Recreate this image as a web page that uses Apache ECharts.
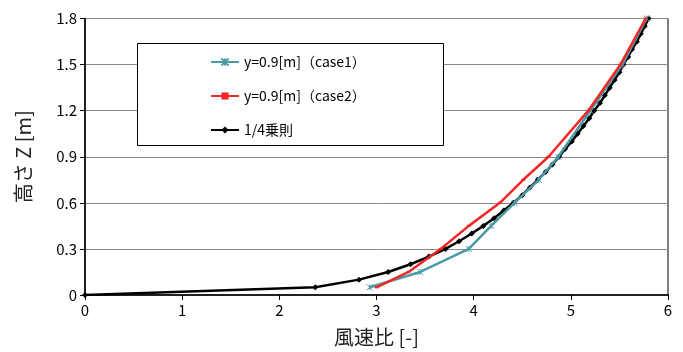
<!DOCTYPE html>
<html><head><meta charset="utf-8">
<script src="https://cdn.jsdelivr.net/npm/echarts@6/dist/echarts.min.js"></script>
<style>html,body{margin:0;padding:0;background:#fff}#c{width:683px;height:352px}</style>
</head><body><div id="c"></div>
<script>
const seriesNames = ['y=0.9[m]（case1）', 'y=0.9[m]（case2）', '1/4乗則'];
const case1X = [2.93, 3.45, 3.95, 4.18, 4.42, 4.67, 4.87, 5.20, 5.53, 5.78];
const case1Z = [0.05, 0.15, 0.30, 0.45, 0.60, 0.75, 0.90, 1.20, 1.50, 1.80];
const case2X = [3.00, 3.33, 3.66, 3.95, 4.27, 4.51, 4.77, 5.18, 5.51, 5.77];
const case2Z = [0.05, 0.15, 0.30, 0.45, 0.60, 0.75, 0.90, 1.20, 1.50, 1.80];
const lawX = [0, 2.37, 2.82, 3.12, 3.35, 3.54, 3.71, 3.85, 3.98, 4.10, 4.21, 4.31, 4.41, 4.50, 4.58, 4.66, 4.74, 4.81, 4.88, 4.94, 5.01, 5.07, 5.13, 5.19, 5.24, 5.30, 5.35, 5.40, 5.45, 5.50, 5.54, 5.59, 5.63, 5.68, 5.72, 5.76, 5.80];
const lawZ = [0, 0.05, 0.10, 0.15, 0.20, 0.25, 0.30, 0.35, 0.40, 0.45, 0.50, 0.55, 0.60, 0.65, 0.70, 0.75, 0.80, 0.85, 0.90, 0.95, 1.00, 1.05, 1.10, 1.15, 1.20, 1.25, 1.30, 1.35, 1.40, 1.45, 1.50, 1.55, 1.60, 1.65, 1.70, 1.75, 1.80];
const xTicks = [0, 1, 2, 3, 4, 5, 6];
const yTicks = [0, 0.3, 0.6, 0.9, 1.2, 1.5, 1.8];

const zip = (a, b) => a.map((v, i) => [v, b[i]]);
const FONT = '"Noto Sans CJK JP", sans-serif';
const chart = echarts.init(document.getElementById('c'));
chart.setOption({
  animation: false,
  backgroundColor: '#fff',
  grid: { left: 85, right: 15, top: 18.5, bottom: 56, show: true, borderColor: '#000', borderWidth: 1 },
  graphic: [{ type: 'rect', shape: { x: 137.5, y: 43.5, width: 306, height: 102 }, style: { fill: '#fff', stroke: '#000', lineWidth: 1 }, z: 5 }],
  legend: {
    orient: 'vertical', left: 205, top: 50, itemGap: 20, itemWidth: 28, itemHeight: 9, itemSymbolGap: 3, z: 10,
    textStyle: { fontFamily: FONT, fontSize: 14, color: '#000' },
    data: seriesNames
  },
  xAxis: {
    type: 'value', min: 0, max: 6, interval: 1,
    name: '風速比 [-]', nameLocation: 'middle', nameGap: 32,
    nameTextStyle: { fontFamily: FONT, fontSize: 20, color: '#222' },
    axisLine: { show: true, lineStyle: { color: '#000', width: 1.5 } },
    axisTick: { show: true, inside: false, length: 5, lineStyle: { color: '#000' } },
    axisLabel: { fontFamily: FONT, fontSize: 15, color: '#000', margin: 8, formatter: v => xTicks.includes(v) ? String(v) : '' },
    splitLine: { show: false }
  },
  yAxis: {
    type: 'value', min: 0, max: 1.8, interval: 0.3,
    name: '高さ Z [m]', nameLocation: 'middle', nameGap: 52, nameRotate: 90,
    nameTextStyle: { fontFamily: FONT, fontSize: 20, color: '#222' },
    axisLine: { show: true, lineStyle: { color: '#000', width: 1.5 } },
    axisTick: { show: true, inside: false, length: 5, lineStyle: { color: '#000' } },
    axisLabel: { fontFamily: FONT, fontSize: 15, color: '#000', margin: 8, formatter: v => { const t = yTicks.find(y => Math.abs(y - v) < 1e-6); return t === undefined ? '' : (t === 0 ? '0' : t.toFixed(1)); } },
    splitLine: { show: true, lineStyle: { color: '#888', width: 1 } }
  },
  series: [
    {
      name: seriesNames[0], type: 'line', data: zip(case1X, case1Z), z: 3,
      symbol: 'path://M0,0L10,10M10,0L0,10M5,0L5,10', symbolSize: 6,
      lineStyle: { color: '#4a9aa8', width: 2.5 },
      itemStyle: { color: '#4a9aa8', borderColor: '#4a9aa8', borderWidth: 1 }
    },
    {
      name: seriesNames[1], type: 'line', data: zip(case2X, case2Z), z: 4,
      symbol: 'rect', symbolSize: [4, 2],
      lineStyle: { color: '#f02828', width: 2.5 },
      itemStyle: { color: '#f02828' }
    },
    {
      name: seriesNames[2], type: 'line', data: zip(lawX, lawZ), z: 2,
      symbol: 'diamond', symbolSize: 6,
      lineStyle: { color: '#000', width: 2.5 },
      itemStyle: { color: '#000' }
    }
  ]
});
</script></body></html>
